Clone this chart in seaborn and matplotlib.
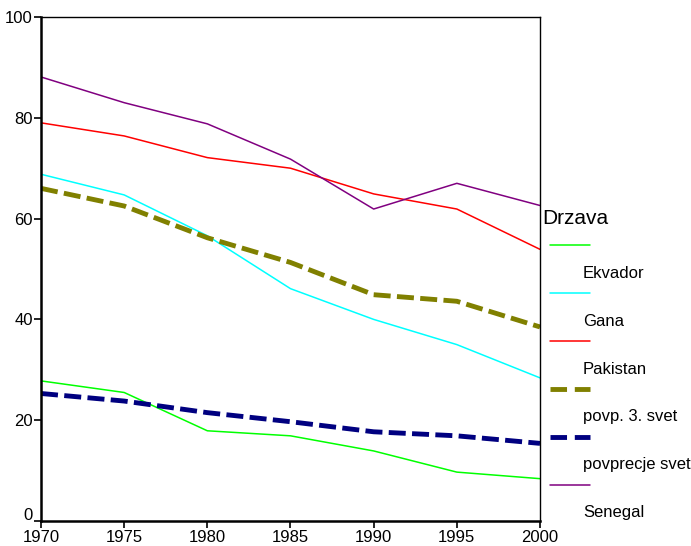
import matplotlib
matplotlib.use("Agg")
import matplotlib.pyplot as plt
import matplotlib.transforms as mtransforms
import seaborn as sns
import pandas as pd

years = [1970, 1975, 1980, 1985, 1990, 1995, 2000]
ekvador = [27.8, 25.5, 17.9, 16.9, 13.9, 9.7, 8.4]
gana = [68.8, 64.7, 56.6, 46.1, 40.0, 35.0, 28.4]
pakistan = [79.0, 76.4, 72.1, 70.0, 64.9, 61.9, 53.9]
povp_3_svet = [66.0, 62.5, 56.2, 51.3, 44.9, 43.6, 38.5]
povprecje_svet = [25.3, 23.8, 21.5, 19.7, 17.7, 16.9, 15.4]
senegal = [88.1, 83.0, 78.8, 71.8, 61.9, 67.0, 62.6]

names = ["Ekvador", "Gana", "Pakistan", "povp. 3. svet", "povprecje svet", "Senegal"]
series = [ekvador, gana, pakistan, povp_3_svet, povprecje_svet, senegal]
colors = ["#00FF00", "#00FFFF", "#FF0000", "#808000", "#000080", "#800080"]
dashed = [False, False, False, True, True, False]
y_ticks = [0, 20, 40, 60, 80, 100]
x_ticks = [1970, 1975, 1980, 1985, 1990, 1995, 2000]

rows = []
for n, s in zip(names, series):
    for y, v in zip(years, s):
        rows.append({"Leto": y, "Vrednost": v, "Drzava": n})
df = pd.DataFrame(rows)

sns.set_theme(style="white")
plt.rcParams["font.family"] = ["Liberation Sans", "DejaVu Sans"]

fig = plt.figure(figsize=(6.91, 5.46), dpi=100)
ax = fig.add_axes([41 / 691, 1 - 521 / 546, (540 - 41) / 691, (521 - 17) / 546])

for n, c, d in zip(names, colors, dashed):
    sub = df[df["Drzava"] == n]
    if d:
        sns.lineplot(data=sub, x="Leto", y="Vrednost", ax=ax, color=c,
                     linewidth=3.5, dashes=False, legend=False)
        ax.lines[-1].set_dashes((3.5, 1.3))
    else:
        sns.lineplot(data=sub, x="Leto", y="Vrednost", ax=ax, color=c,
                     linewidth=1.1, legend=False)

ax.set_xlim(1970, 2000)
ax.set_ylim(0, 100)
ax.set_xticks(x_ticks)
ax.set_yticks(y_ticks)
ax.set_xlabel("")
ax.set_ylabel("")
ax.tick_params(axis="both", direction="out", length=5, width=1.2, colors="black",
               labelsize=12, bottom=True, left=True)
ax.tick_params(axis="y", pad=1)
ax.tick_params(axis="x", pad=1.8)
for side in ["left", "bottom"]:
    ax.spines[side].set_linewidth(1.8)
    ax.spines[side].set_color("black")
for side in ["top", "right"]:
    ax.spines[side].set_linewidth(1.0)
    ax.spines[side].set_color("black")

# nudge the "0" y label up a bit, as in the reference
for lbl in ax.get_yticklabels():
    if lbl.get_text() == "0":
        lbl.set_transform(lbl.get_transform() + mtransforms.ScaledTranslation(0, 5 / 72, fig.dpi_scale_trans))

# custom legend (label below each key line)
def fx(px):
    return px / 691

def fy(py):
    return 1 - py / 546

fig.text(fx(542), fy(219), "Drzava", fontsize=15, va="center", ha="left", color="black")
for i, (n, c, d) in enumerate(zip(names, colors, dashed)):
    ly = 245 + 48 * i
    line = plt.Line2D([fx(550), fx(590)], [fy(ly), fy(ly)], transform=fig.transFigure,
                      color=c, linewidth=3.5 if d else 1.1)
    if d:
        line.set_dashes((3.4, 1.6))
    fig.add_artist(line)
    fig.text(fx(583), fy(ly + 28), n, fontsize=12, va="center", ha="left", color="black")

fig.savefig("out.png", dpi=100)
